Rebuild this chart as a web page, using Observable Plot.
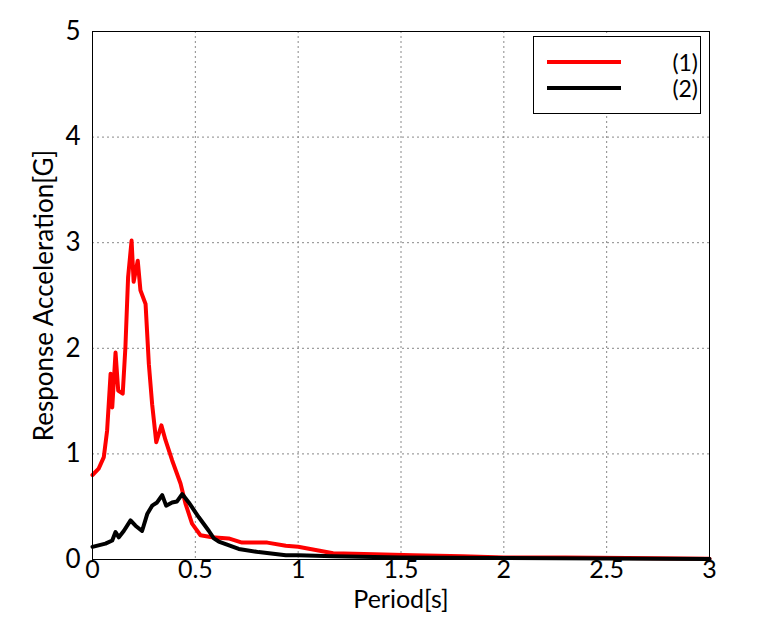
<!DOCTYPE html>
<html>
<head>
<meta charset="utf-8">
<script src="https://cdn.jsdelivr.net/npm/d3@7"></script>
<script src="https://cdn.jsdelivr.net/npm/@observablehq/plot@0.6"></script>
<style>
  html, body { margin: 0; padding: 0; background: white; }
  #wrap { position: relative; width: 781px; height: 620px; }
  #legend { position: absolute; left: 533px; top: 36px; width: 166px; height: 76px;
            border: 1px solid black; background: white; font-family: Lato, sans-serif; font-size: 23px; }
  .row { position: absolute; left: 0; width: 166px; height: 22px; }
  .swatch { position: absolute; left: 13px; width: 74px; height: 4px; }
  .lab { position: absolute; right: 2px; line-height: 22px; top: -11px; }
</style>
</head>
<body>
<div id="wrap"></div>
<script>
// Series (1) - red
const period1 = [0, 0.03, 0.055, 0.071, 0.088, 0.096, 0.112, 0.125, 0.147, 0.16, 0.173, 0.19, 0.20, 0.22, 0.233, 0.258, 0.274, 0.29, 0.31, 0.335, 0.355, 0.387, 0.428, 0.452, 0.484, 0.525, 0.581, 0.662, 0.727, 0.81, 0.85, 0.94, 1.0, 1.17, 1.37, 1.56, 1.8, 2.0, 2.3, 2.6, 3.0];
const accel1  = [0.80, 0.86, 0.97, 1.22, 1.76, 1.44, 1.96, 1.60, 1.57, 2.01, 2.67, 3.02, 2.63, 2.83, 2.55, 2.42, 1.85, 1.47, 1.11, 1.27, 1.13, 0.94, 0.72, 0.53, 0.34, 0.23, 0.21, 0.20, 0.16, 0.16, 0.16, 0.13, 0.12, 0.06, 0.05, 0.04, 0.03, 0.02, 0.02, 0.015, 0.008];
// Series (2) - black
const period2 = [0, 0.063, 0.096, 0.112, 0.128, 0.152, 0.185, 0.209, 0.241, 0.266, 0.29, 0.314, 0.339, 0.358, 0.387, 0.411, 0.436, 0.468, 0.517, 0.566, 0.59, 0.614, 0.711, 0.808, 0.94, 1.0, 1.17, 1.5, 2.0, 2.5, 3.0];
const accel2  = [0.12, 0.15, 0.18, 0.26, 0.21, 0.27, 0.37, 0.32, 0.27, 0.43, 0.51, 0.54, 0.61, 0.51, 0.54, 0.55, 0.62, 0.54, 0.40, 0.27, 0.20, 0.17, 0.10, 0.07, 0.04, 0.04, 0.03, 0.02, 0.015, 0.01, 0.005];
const xTicks = [0, 0.5, 1, 1.5, 2, 2.5, 3];
const yTicks = [0, 1, 2, 3, 4, 5];
const seriesNames = ["(1)", "(2)"];
const seriesColors = ["#ff0000", "#000000"];

const s1 = period1.map((p, i) => ({p, a: accel1[i]}));
const s2 = period2.map((p, i) => ({p, a: accel2[i]}));

const chart = Plot.plot({
  width: 781, height: 620,
  marginLeft: 92, marginRight: 72, marginTop: 31, marginBottom: 61,
  style: {fontFamily: "Lato, sans-serif", background: "white", color: "black"},
  x: {domain: [0, 3]},
  y: {domain: [0, 5]},
  marks: [
    Plot.gridX(xTicks, {stroke: "#888", strokeOpacity: 1, strokeDasharray: "2,3"}),
    Plot.gridY(yTicks, {stroke: "#888", strokeOpacity: 1, strokeDasharray: "2,3"}),
    Plot.axisX(xTicks, {tickSize: 0, tickPadding: 1, fontSize: 25, tickFormat: d => String(d),
      label: "Period[s]", labelAnchor: "center", labelArrow: "none", labelOffset: 48}),
    Plot.axisY(yTicks, {tickSize: 0, tickPadding: 12, fontSize: 26, tickFormat: d => String(d),
      label: "Response Acceleration[G]", labelAnchor: "center", labelArrow: "none", labelOffset: 58}),
    Plot.line(s1, {x: "p", y: "a", stroke: seriesColors[0], strokeWidth: 4, curve: "linear"}),
    Plot.line(s2, {x: "p", y: "a", stroke: seriesColors[1], strokeWidth: 4, curve: "linear"}),
    Plot.frame({stroke: "black", strokeWidth: 1})
  ]
});
const wrap = document.getElementById("wrap");
wrap.appendChild(chart);

const legend = document.createElement("div");
legend.id = "legend";
seriesNames.forEach((name, i) => {
  const row = document.createElement("div");
  row.className = "row";
  row.style.top = (25 + i * 26) + "px";
  const sw = document.createElement("div");
  sw.className = "swatch";
  sw.style.background = seriesColors[i];
  sw.style.top = "-2px";
  const lab = document.createElement("div");
  lab.className = "lab";
  lab.textContent = name;
  row.appendChild(sw);
  row.appendChild(lab);
  legend.appendChild(row);
});
wrap.appendChild(legend);
</script>
</body>
</html>
